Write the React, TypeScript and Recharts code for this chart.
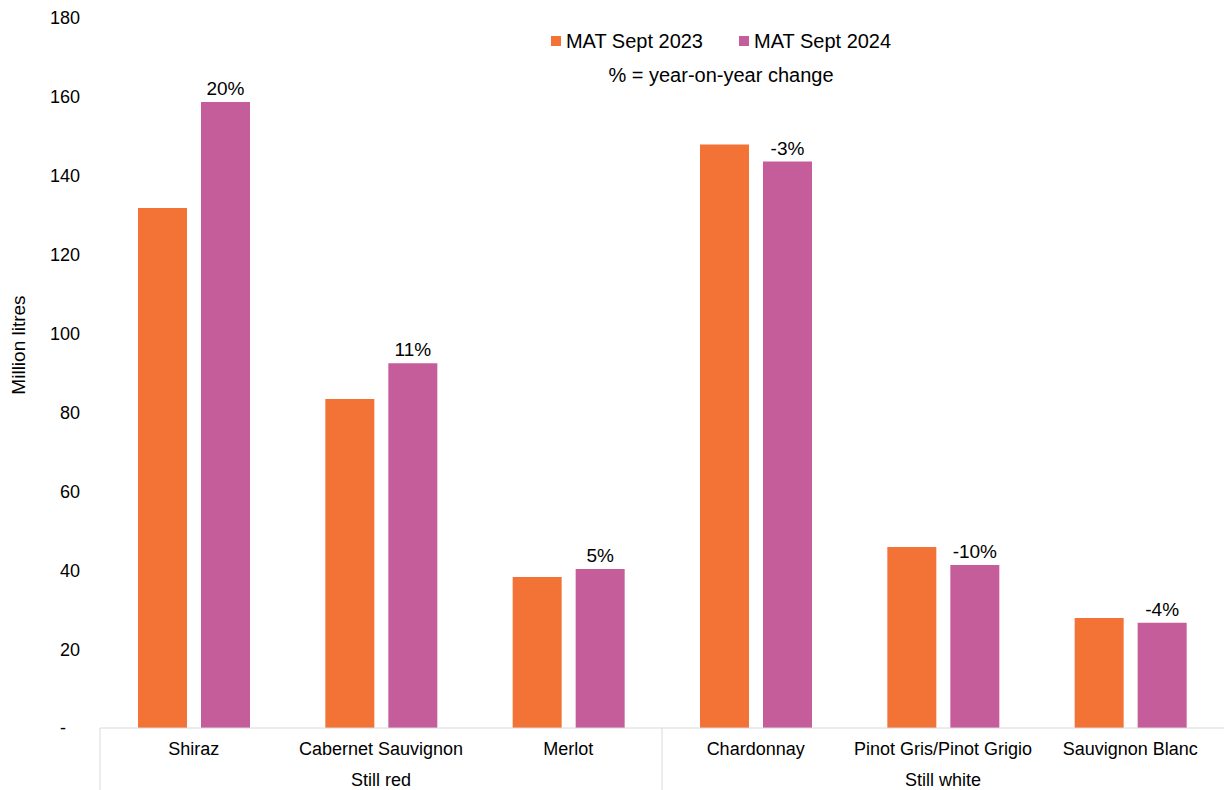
import React from 'react';
import { BarChart, Bar, XAxis, YAxis, Legend, LabelList, Label } from 'recharts';

const categories = ['Shiraz', 'Cabernet Sauvignon', 'Merlot', 'Chardonnay', 'Pinot Gris/Pinot Grigio', 'Sauvignon Blanc'];
const groups = ['Still red', 'Still red', 'Still red', 'Still white', 'Still white', 'Still white'];
const mat2023 = [131.8, 83.4, 38.3, 147.9, 45.9, 27.9];
const mat2024 = [158.7, 92.5, 40.3, 143.6, 41.3, 26.7];
const yoyChange = [20, 11, 5, -3, -10, -4];
const yTicks = [0, 20, 40, 60, 80, 100, 120, 140, 160, 180];

const ORANGE = '#F37236';
const PURPLE = '#C55D9B';
const GRID = '#D9D9D9';

const rows = categories.map((name, i) => ({
  name,
  group: groups[i],
  mat2023: mat2023[i],
  mat2024: mat2024[i],
  yoy: `${yoyChange[i]}%`,
}));

// start / middle of each run of the same group label
function groupInfo(i: number) {
  let start = i;
  while (start > 0 && groups[start - 1] === groups[i]) start--;
  let end = i;
  while (end < groups.length - 1 && groups[end + 1] === groups[i]) end++;
  return { isStart: i === start, isMiddle: i === Math.floor((start + end) / 2) };
}

const CategoryTick = (props: any) => {
  const { x, y, payload, index } = props;
  const half = payload?.offset ?? 93.7;
  const { isStart, isMiddle } = groupInfo(index);
  return (
    <g>
      <text x={x} y={y + 27} textAnchor="middle" fill="#000" fontSize={18}>
        {payload.value}
      </text>
      {isMiddle && (
        <text x={x} y={y + 58} textAnchor="middle" fill="#000" fontSize={18}>
          {groups[index]}
        </text>
      )}
      {isStart && <line x1={x - half} x2={x - half} y1={y} y2={y + 62} stroke={GRID} strokeWidth={1} />}
    </g>
  );
};

const ValueTick = (props: any) => {
  const { x, y, payload } = props;
  const v = Number(payload.value);
  return (
    <text x={v === 0 ? x - 14 : x} y={y} dy="0.355em" textAnchor="end" fill="#000" fontSize={18}>
      {v === 0 ? '-' : v}
    </text>
  );
};

const renderLegend = (props: any) => {
  const items = props.payload || [];
  return (
    <div style={{ width: 370, fontSize: 20, color: '#000' }}>
      <div style={{ display: 'flex', justifyContent: 'center', gap: 36, lineHeight: '22px' }}>
        {items.map((p: any) => (
          <span key={p.value} style={{ display: 'flex', alignItems: 'center' }}>
            <span style={{ width: 10, height: 10, background: p.color, marginRight: 5, display: 'inline-block' }} />
            {p.value}
          </span>
        ))}
      </div>
      <div style={{ textAlign: 'center', marginTop: 12, lineHeight: '22px' }}>% = year-on-year change</div>
    </div>
  );
};

export default function App() {
  return (
    <div
      style={{
        position: 'absolute',
        top: 0,
        left: 0,
        width: 1224,
        height: 790,
        background: '#fff',
        fontFamily: "'Liberation Sans', Arial, sans-serif",
      }}
    >
      <BarChart
        width={1224}
        height={790}
        data={rows}
        margin={{ top: 18, right: 0, bottom: 0, left: 0 }}
        barSize={49}
        barGap={14}
      >
        <XAxis
          dataKey="name"
          height={62}
          interval={0}
          tickLine={false}
          tickSize={0}
          tickMargin={0}
          axisLine={{ stroke: GRID }}
          tick={<CategoryTick />}
        />
        <YAxis
          domain={[0, 180]}
          ticks={yTicks}
          width={100}
          axisLine={false}
          tickLine={false}
          tickSize={0}
          tickMargin={20}
          tick={<ValueTick />}
        >
          <Label
            content={(p: any) => {
              const vb = p.viewBox || { y: 18, height: 710 };
              const cy = vb.y + vb.height / 2 - 28;
              return (
                <text x={18} y={cy} transform={`rotate(-90, 18, ${cy})`} textAnchor="middle" dy="0.355em" fill="#000" fontSize={19}>
                  Million litres
                </text>
              );
            }}
          />
        </YAxis>
        <Legend
          layout="horizontal"
          verticalAlign="middle"
          align="center"
          wrapperStyle={{ top: 30, left: 536, width: 370 }}
          content={renderLegend}
        />
        <Bar dataKey="mat2023" name="MAT Sept 2023" fill={ORANGE} isAnimationActive={false} />
        <Bar dataKey="mat2024" name="MAT Sept 2024" fill={PURPLE} isAnimationActive={false}>
          <LabelList dataKey="yoy" position="top" offset={7} fill="#000" fontSize={19} />
        </Bar>
      </BarChart>
    </div>
  );
}
